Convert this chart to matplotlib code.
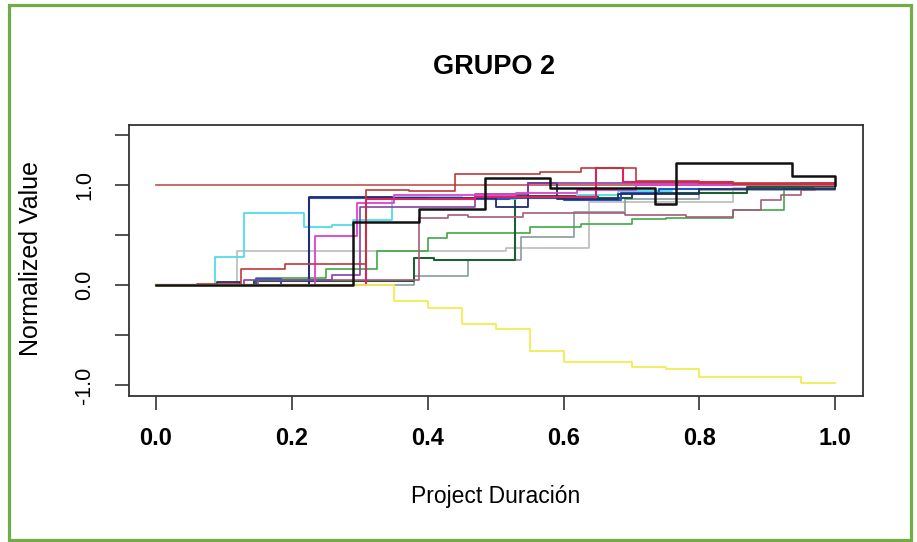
import matplotlib
matplotlib.use("Agg")
import matplotlib.pyplot as plt
from matplotlib.patches import Rectangle

plt.rcParams['font.family'] = ['Liberation Sans', 'DejaVu Sans']

# ---- data: step series (x = project duration, y = normalized value) ----
brown_x = [0.0, 1.0]
brown_y = [1.0, 1.0]

red_x = [0.0, 0.06, 0.087, 0.125, 0.19, 0.31, 0.373, 0.44, 0.565, 0.626, 0.707, 0.80, 1.0]
red_y = [0.0, 0.01, 0.01, 0.16, 0.21, 0.95, 0.94, 1.11, 1.13, 1.17, 1.04, 1.02, 1.0]

crimson_x = [0.0, 0.31, 0.47, 0.648, 0.687, 0.85, 1.0]
crimson_y = [0.0, 0.86, 0.88, 1.17, 1.03, 1.01, 1.0]

magenta_x = [0.0, 0.235, 0.296, 0.35, 0.53, 0.62, 0.707, 0.85, 1.0]
magenta_y = [0.0, 0.49, 0.82, 0.90, 0.92, 0.95, 1.0, 1.01, 1.0]

cyan_x = [0.0, 0.087, 0.13, 0.218, 0.26, 0.29, 0.347, 0.45, 0.53, 0.62, 0.68, 0.76, 0.83]
cyan_y = [0.0, 0.28, 0.72, 0.58, 0.60, 0.65, 0.88, 0.86, 0.87, 0.90, 0.94, 0.96, 0.96]

lightgray_x = [0.0, 0.12, 0.515, 0.637, 0.85, 0.91]
lightgray_y = [0.0, 0.34, 0.37, 0.83, 0.97, 0.97]

navy_x = [0.0, 0.09, 0.124, 0.226, 0.347, 0.50, 0.547, 0.59, 0.68, 0.80, 1.0]
navy_y = [0.0, 0.03, 0.0, 0.88, 0.87, 0.78, 1.02, 0.86, 0.91, 0.96, 1.0]

blue_x = [0.0, 0.148, 0.184, 0.226, 0.40, 0.52, 0.60, 0.685, 0.74, 0.80]
blue_y = [0.0, 0.06, 0.0, 0.87, 0.86, 0.87, 0.85, 0.92, 0.96, 0.96]

purple_x = [0.0, 0.13, 0.26, 0.30, 0.47, 0.547, 0.80, 0.95, 1.0]
purple_y = [0.0, 0.05, 0.10, 0.78, 0.91, 1.02, 1.01, 1.02, 1.02]

mauve_x = [0.0, 0.15, 0.388, 0.43, 0.46, 0.54, 0.69, 0.78, 0.85, 0.89, 0.92, 0.95, 0.97, 1.0]
mauve_y = [0.0, 0.05, 0.67, 0.70, 0.68, 0.72, 0.70, 0.68, 0.75, 0.85, 0.90, 0.95, 0.97, 1.0]

green_x = [0.0, 0.148, 0.25, 0.325, 0.40, 0.428, 0.55, 0.626, 0.70, 0.75, 0.85, 0.925, 1.0]
green_y = [0.0, 0.07, 0.16, 0.34, 0.47, 0.52, 0.58, 0.61, 0.66, 0.67, 0.75, 0.96, 0.97]

darkgreen_x = [0.0, 0.145, 0.38, 0.41, 0.528, 0.65, 0.70, 0.87, 1.0]
darkgreen_y = [0.0, 0.04, 0.27, 0.25, 0.89, 0.87, 0.92, 0.98, 0.98]

slate_x = [0.0, 0.38, 0.46, 0.537, 0.615, 0.69, 0.80, 1.0]
slate_y = [0.0, 0.09, 0.25, 0.48, 0.73, 0.86, 0.95, 1.0]

yellow_x = [0.0, 0.35, 0.40, 0.45, 0.50, 0.55, 0.60, 0.70, 0.75, 0.80, 0.95, 1.0]
yellow_y = [0.0, -0.16, -0.23, -0.39, -0.44, -0.66, -0.77, -0.82, -0.84, -0.92, -0.98, -0.98]

black_x = [0.0, 0.29, 0.387, 0.484, 0.58, 0.735, 0.765, 0.936, 1.0]
black_y = [0.0, 0.63, 0.76, 1.07, 0.97, 0.81, 1.22, 1.09, 1.0]

x_ticks = [0.0, 0.2, 0.4, 0.6, 0.8, 1.0]
x_ticklabels = ["0.0", "0.2", "0.4", "0.6", "0.8", "1.0"]
y_ticks = [-1.0, -0.5, 0.0, 0.5, 1.0, 1.5]
y_ticklabels = ["-1.0", "", "0.0", "", "1.0", ""]

series = [
    (brown_x, brown_y, "#C05050", 1.2),
    (lightgray_x, lightgray_y, "#BBBBBB", 1.2),
    (slate_x, slate_y, "#8A9AA0", 1.2),
    (green_x, green_y, "#40A845", 1.2),
    (darkgreen_x, darkgreen_y, "#1F5E35", 1.5),
    (mauve_x, mauve_y, "#A85A7A", 1.2),
    (cyan_x, cyan_y, "#50DDE8", 1.3),
    (blue_x, blue_y, "#2555C0", 1.5),
    (navy_x, navy_y, "#1E2A70", 1.3),
    (purple_x, purple_y, "#8A3FA8", 1.2),
    (magenta_x, magenta_y, "#E040D0", 1.3),
    (crimson_x, crimson_y, "#E02060", 1.5),
    (red_x, red_y, "#C03838", 1.2),
    (yellow_x, yellow_y, "#F0EE50", 1.3),
    (black_x, black_y, "#111111", 1.8),
]

W, H = 917, 542
fig = plt.figure(figsize=(W / 100, H / 100), dpi=100)
fig.patch.set_facecolor("white")

left, right, top, bottom = 128.6, 862.6, 124.6, 395.5
ax = fig.add_axes([left / W, 1 - bottom / H, (right - left) / W, (bottom - top) / H])

for xs, ys, col, lw in series:
    ax.step(xs, ys, where="post", color=col, lw=lw)

ax.set_xlim(-0.04, 1.04)
ax.set_ylim(-1.1, 1.6)

ax.set_xticks(x_ticks)
ax.set_xticklabels(x_ticklabels, fontsize=17, fontweight="bold")
ax.set_yticks(y_ticks)
ax.set_yticklabels(y_ticklabels, fontsize=15.5, rotation=90, va="center")

ax.tick_params(axis="x", length=10, width=1.1, pad=13, color="#222222")
ax.tick_params(axis="y", length=10, width=1.1, pad=14, color="#222222")
for s in ax.spines.values():
    s.set_linewidth(1.3)
    s.set_color("#333333")

fig.text(494 / W, 1 - 67 / H, "GRUPO 2", fontsize=19.5, fontweight="bold",
         ha="center", va="center")
fig.text(496 / W, 1 - 497 / H, "Project Duración", fontsize=16.5,
         ha="center", va="center")
fig.text(31 / W, 1 - 258 / H, "Normalized Value", fontsize=18,
         rotation=90, ha="center", va="center")

fig.patches.append(Rectangle((9 / W, 2 / H), (911 - 9) / W, (537 - 2) / H,
                             transform=fig.transFigure, fill=False,
                             edgecolor="#70AD47", linewidth=2.3))

fig.savefig("out.png", dpi=100, facecolor="white")
